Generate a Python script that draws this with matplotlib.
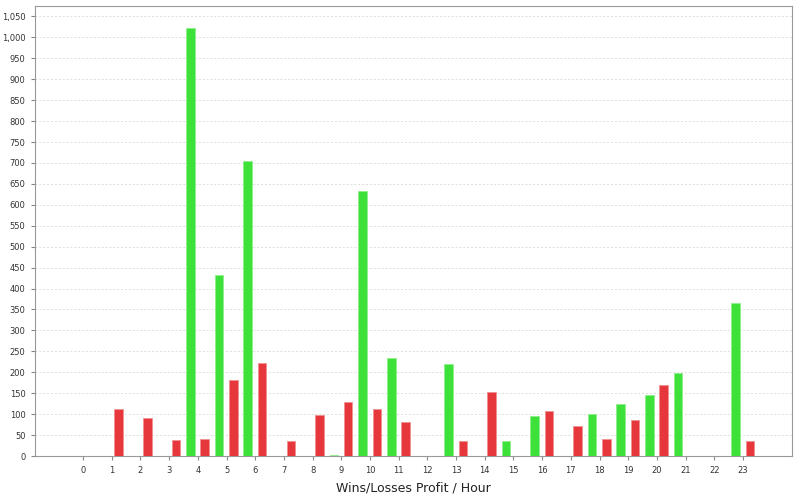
import numpy as np
import matplotlib
matplotlib.use('Agg')
import matplotlib.pyplot as plt
from matplotlib.ticker import FuncFormatter, MultipleLocator

hours = list(range(24))
wins = [0, 0, 0, 0, 1023, 432, 705, 0, 0, 3, 632, 235, 0, 219, 0, 37, 95, 0, 101, 125, 146, 199, 0, 366]
losses = [0, 113, 91, 38, 40, 182, 222, 36, 97, 129, 112, 81, 0, 36, 152, 0, 108, 71, 40, 86, 170, 0, 0, 36]

x = np.array(hours)
fig = plt.figure(figsize=(8, 5), dpi=100)
ax = fig.add_axes([0.044, 0.088, 0.946, 0.9])

w = 0.3
ax.bar(x - 0.26, wins, width=w, color='#3ee03a', edgecolor='#8ef08a', linewidth=0.6, zorder=3)
ax.bar(x + 0.24, losses, width=w, color='#e6383c', edgecolor='#f09090', linewidth=0.6, zorder=3)

ax.set_xlim(-1.67, 24.71)
ax.set_ylim(0, 1075)
ax.set_xticks(x)
ax.set_xticklabels([str(h) for h in hours])
ax.yaxis.set_major_locator(MultipleLocator(50))
ax.yaxis.set_major_formatter(FuncFormatter(lambda v, p: f"{int(v):,}"))
ax.tick_params(labelsize=6, length=3, color='#888888', labelcolor='#333333', pad=4)
ax.grid(axis='y', linestyle=(0, (2, 2)), color='#dddddd', linewidth=0.7, zorder=0)
for s in ax.spines.values():
    s.set_color('#999999')
    s.set_linewidth(0.8)

ax.set_xlabel('Wins/Losses Profit / Hour', fontsize=9, color='#222222', labelpad=5)

fig.savefig('out.png', dpi=100)
